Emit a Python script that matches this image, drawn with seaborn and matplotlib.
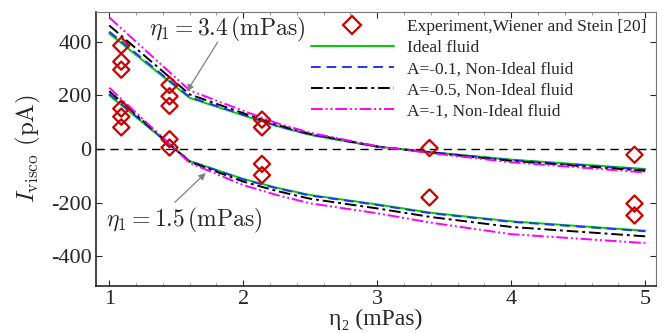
import numpy as np
import pandas as pd
import seaborn as sns
import matplotlib.pyplot as plt
from matplotlib.ticker import MultipleLocator
from matplotlib.lines import Line2D

# Datos experimentales (Wiener and Stein)
exp_eta2 = [1.09, 1.09, 1.09, 1.09, 1.09, 1.09,
            1.45, 1.45, 1.45, 1.45, 1.45,
            2.14, 2.14, 2.14, 2.14,
            3.39, 3.39,
            4.92, 4.92, 4.92]
exp_I = [385, 325, 295, 150, 120, 80,
         238, 196, 160, 36, 5,
         109, 80, -56, -98,
         3, -181,
         -22, -204, -248]

# Curvas del modelo
eta2 = [1.0, 1.6, 2.0, 2.25, 2.5, 3.0, 3.4, 4.0, 5.0]

# eta1 = 3.4 mPas
up_ideal = [430, 190, 125, 85, 52, 8, -12, -40, -75]
up_a01 = [437, 193, 127, 86, 53, 8, -13, -42, -78]
up_a05 = [460, 203, 133, 90, 56, 9, -14, -45, -82]
up_a1 = [490, 218, 142, 96, 60, 10, -16, -50, -88]

# eta1 = 1.5 mPas
lo_ideal = [200, -45, -112, -145, -172, -207, -238, -270, -305]
lo_a01 = [205, -46, -114, -147, -174, -209, -240, -272, -307]
lo_a05 = [215, -48, -122, -157, -186, -222, -254, -291, -326]
lo_a1 = [228, -52, -135, -172, -203, -240, -275, -318, -351]

labels = ["Ideal fluid", "A=-0.1, Non-Ideal fluid",
          "A=-0.5, Non-Ideal fluid", "A=-1, Non-Ideal fluid"]

sns.set_style("ticks")
plt.rcParams['font.family'] = ['Liberation Serif', 'DejaVu Serif']
plt.rcParams['mathtext.fontset'] = 'cm'

fig = plt.figure(figsize=(6.7, 3.33), dpi=100)
ax = fig.add_axes([0.143, 0.142, 0.836, 0.822])

estilos = [
    ("#00cc00", "-"),
    ("#2233ff", (0, (5, 3))),
    ("black", (0, (6, 2, 1.5, 2))),
    ("#ff00ff", (0, (6, 1.5, 1, 1.5, 1, 1.5))),
]

ax.axhline(0, color='black', lw=1, ls=(0, (6, 4)), zorder=1)

upper = [up_ideal, up_a01, up_a05, up_a1]
lower = [lo_ideal, lo_a01, lo_a05, lo_a1]
for (col, ls), yu, yl in zip(estilos, upper, lower):
    for y in (yu, yl):
        sns.lineplot(x=eta2, y=y, ax=ax, color=col, linestyle=ls, lw=1.4,
                     sort=False, estimator=None, legend=False)

sns.scatterplot(x=exp_eta2, y=exp_I, ax=ax, marker='D', s=68,
                facecolors='none', edgecolor='#cc0000', linewidth=1.6,
                legend=False, zorder=5)

ax.set_xlim(0.9, 5.08)
ax.set_ylim(-510, 510)
ax.xaxis.set_major_locator(MultipleLocator(1))
ax.xaxis.set_minor_locator(MultipleLocator(0.2))
ax.tick_params(which='both', direction='in', top=True, right=True, labelsize=16, pad=3)
ax.tick_params(which='major', length=4, width=0.8)
ax.tick_params(which='minor', length=2, width=0.6, color='gray')
ax.set_yticks([-400, -200, 0, 200, 400])
ax.set_yticklabels(['-400', '-200', '0', '200', '400'])
for s in ('top', 'right'):
    ax.spines[s].set_color('#777777')
for s in ('left', 'bottom'):
    ax.spines[s].set_linewidth(1.2)

ax.set_xlabel("η₂ (mPas)", fontsize=17, labelpad=0)
ax.set_ylabel(r"$I_{\rm visco}\ (\mathrm{pA})$", fontsize=18, labelpad=6)

# etiquetas y flechas
ax.text(1.88, 446, r"$\eta_1 = 3.4\,(\mathrm{mPas})$", ha='center', va='center', fontsize=17)
ax.annotate("", xy=(1.58, 214), xytext=(1.81, 398),
            arrowprops=dict(arrowstyle='-|>', color='gray', lw=0.9,
                            mutation_scale=10, shrinkA=0, shrinkB=0))
ax.text(1.56, -268, r"$\eta_1 = 1.5\,(\mathrm{mPas})$", ha='center', va='center', fontsize=17)
ax.annotate("", xy=(1.72, -90), xytext=(1.49, -199),
            arrowprops=dict(arrowstyle='-|>', color='gray', lw=0.9,
                            mutation_scale=10, shrinkA=0, shrinkB=0))

handles = [Line2D([], [], marker='D', ls='none', markersize=9, markerfacecolor='none',
                  markeredgecolor='#cc0000', markeredgewidth=1.6)]
for col, ls in estilos:
    handles.append(Line2D([], [], color=col, ls=ls, lw=1.4))
ax.legend(handles, ["Experiment,Wiener and Stein [20]"] + labels,
          loc='upper right', bbox_to_anchor=(1.008, 1.025), frameon=False,
          fontsize=12.5, handlelength=4.8, labelspacing=0.28, handletextpad=0.75,
          borderpad=0.3)

fig.savefig("out.png", dpi=100)
